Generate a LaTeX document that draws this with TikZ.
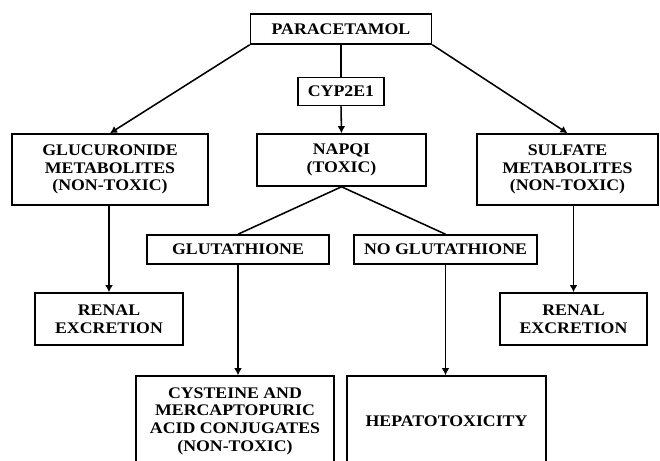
\documentclass[tikz,border=0pt]{standalone}
\usepackage{fontspec}
\setmainfont{Liberation Serif}[FakeStretch=1.1]
\usepackage{tikz}
\usetikzlibrary{arrows.meta,positioning}

\begin{document}
\begin{tikzpicture}[x=0.025cm,y=0.025cm,
	box/.style={draw, line width=1.1pt, inner sep=0pt, align=center,
		font=\fontsize{11.5}{12.6}\selectfont\bfseries},
	arr/.style={line width=1.1pt, -{Latex[length=5pt,width=5.5pt]}},
	link/.style={line width=1.1pt}]

	\useasboundingbox (0,0) rectangle (660,461);
	\clip (0,0) rectangle (660,461);

	\node (para) [box, minimum width=4.525cm, minimum height=0.75cm] at (341,432) {PARACETAMOL};
	\node (cyp) [box, minimum width=2.15cm, minimum height=0.7cm] at (341,369.5) {CYP2E1};
	\node (napqi) [box, minimum width=4.225cm, minimum height=1.3cm] at (341.5,301) {NAPQI\\(TOXIC)};
	\node (gluc) [box, minimum width=4.9cm, minimum height=1.775cm] at (110,291.5) {GLUCURONIDE\\METABOLITES\\(NON-TOXIC)};
	\node (sulf) [box, minimum width=4.525cm, minimum height=1.775cm] at (567.5,291.5) {SULFATE\\METABOLITES\\(NON-TOXIC)};
	\node (glut) [box, minimum width=4.55cm, minimum height=0.725cm] at (238,211.5) {GLUTATHIONE};
	\node (noglut) [box, minimum width=4.575cm, minimum height=0.725cm] at (445.5,211.5) {NO GLUTATHIONE};
	\node (renalL) [box, minimum width=3.7cm, minimum height=1.3cm] at (109,142) {RENAL\\EXCRETION};
	\node (renalR) [box, minimum width=3.675cm, minimum height=1.3cm] at (573.5,142) {RENAL\\EXCRETION};
	\node (cyst) [box, minimum width=4.95cm, minimum height=2.25cm] at (235,40) {CYSTEINE AND\\MERCAPTOPURIC\\ACID CONJUGATES\\(NON-TOXIC)};
	\node (hepa) [box, minimum width=4.975cm, minimum height=2.25cm] at (446.5,40) {HEPATOTOXICITY};

	\draw [arr] (para.south west) -- (gluc.north);
	\draw [arr] (para.south east) -- (sulf.north);
	\draw [link] (para.south) -- (cyp.north);
	\draw [arr] (cyp.south) -- (napqi.north);
	\draw [link] (napqi.south) -- (glut.north);
	\draw [link] (napqi.south) -- (noglut.north);
	\draw [arr] (renalL.north |- gluc.south) -- (renalL.north);
	\draw [arr] (renalR.north |- sulf.south) -- (renalR.north);
	\draw [arr] (glut.south) -- (glut.south |- cyst.north);
	\draw [arr] (noglut.south) -- (noglut.south |- hepa.north);

\end{tikzpicture}
\end{document}
